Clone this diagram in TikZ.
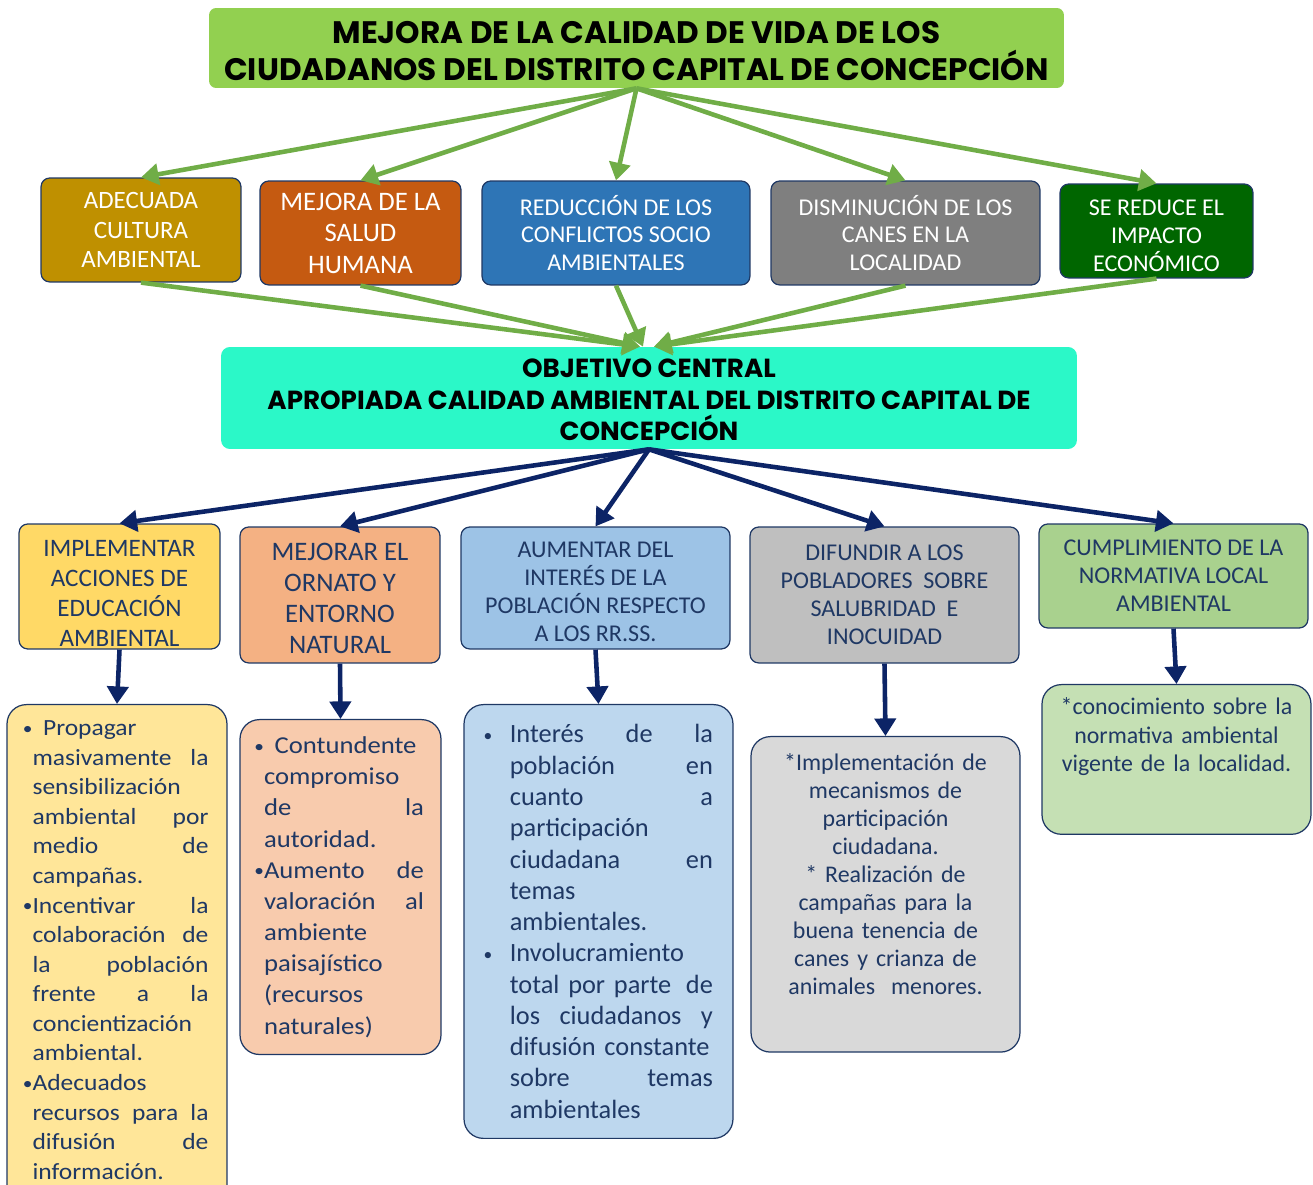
\documentclass[tikz,border=0pt]{standalone}
\usepackage{fontspec}
\setmainfont{Carlito}
\newfontfamily\widefont[FakeStretch=1.1]{Carlito}
\newfontfamily\titlefont{Poppins}
\usetikzlibrary{arrows.meta}

\definecolor{verdeTitulo}{HTML}{92D050}
\definecolor{aguamarina}{HTML}{2BF8C8}
\definecolor{verdeFlecha}{HTML}{70AD47}
\definecolor{azulFlecha}{HTML}{0C2466}
\definecolor{azulTexto}{HTML}{1F3864}
\definecolor{ocre}{HTML}{BF9000}
\definecolor{naranja}{HTML}{C55A11}
\definecolor{azulMedio}{HTML}{2E75B6}
\definecolor{grisOscuro}{HTML}{7F7F7F}
\definecolor{verdeOscuro}{HTML}{006600}
\definecolor{amarillo}{HTML}{FFD966}
\definecolor{salmon}{HTML}{F4B183}
\definecolor{celeste}{HTML}{9DC3E6}
\definecolor{gris}{HTML}{BFBFBF}
\definecolor{verdeClaro}{HTML}{A9D18E}
\definecolor{amarilloClaro}{HTML}{FFE699}
\definecolor{salmonClaro}{HTML}{F8CBAD}
\definecolor{celesteClaro}{HTML}{BDD7EE}
\definecolor{grisClaro}{HTML}{D9D9D9}
\definecolor{verdePalido}{HTML}{C5E0B4}

\newcommand{\vineta}[1]{\leavevmode\llap{\raisebox{0.8pt}{\fontsize{10}{10}\selectfont\textbullet}\hspace{#1}}}

\begin{document}
\begin{tikzpicture}[x=0.02cm,y=-0.02cm,
  caja/.style={draw=azulTexto, line width=0.7pt, rounded corners=5pt, align=center, inner sep=0pt},
  efecto/.style={caja, text=white},
  medio/.style={caja, text=azulTexto},
  accion/.style={caja, rounded corners=11pt, text=azulTexto, anchor=north, inner xsep=0pt},
  flechaVerde/.style={-{Triangle[length=10pt,width=12pt]}, line width=2.6pt, draw=verdeFlecha},
  flechaAzul/.style={-{Triangle[length=10pt,width=12pt]}, line width=2.6pt, draw=azulFlecha}]

\useasboundingbox (0,0) rectangle (1313,1185);

% Fin (top box)
\node[fill=verdeTitulo, rounded corners=4pt, minimum width=17.1cm, minimum height=1.6cm, align=center,
  font={\titlefont\bfseries\fontsize{17.7}{21}\selectfont}] (fin) at (636.5,48)
  {\rule{0pt}{16pt}MEJORA DE LA CALIDAD DE VIDA DE LOS\\CIUDADANOS DEL DISTRITO CAPITAL DE CONCEPCIÓN};

% Efectos
\node[efecto, fill=ocre, minimum width=4cm, minimum height=2.08cm, font={\fontsize{14.2}{16.7}\selectfont}] (e1) at (141,230) {ADECUADA\\CULTURA\\AMBIENTAL};
\node[efecto, fill=naranja, minimum width=4.02cm, minimum height=2.08cm, font={\fontsize{15.2}{17.9}\selectfont}] (e2) at (360.5,233) {MEJORA DE LA\\SALUD\\HUMANA};
\node[efecto, fill=azulMedio, minimum width=5.36cm, minimum height=2.08cm, font={\fontsize{13.7}{15.9}\selectfont}] (e3) at (616,233) {REDUCCIÓN DE LOS\\CONFLICTOS SOCIO\\AMBIENTALES};
\node[efecto, fill=grisOscuro, minimum width=5.38cm, minimum height=2.08cm, font={\fontsize{13.7}{15.9}\selectfont}] (e4) at (905.5,233) {DISMINUCIÓN DE LOS\\CANES EN LA\\LOCALIDAD};
\node[efecto, fill=verdeOscuro, minimum width=3.86cm, minimum height=1.88cm, font={\fontsize{13.7}{15.9}\selectfont}] (e5) at (1156.5,231) {\rule{0pt}{14pt}SE REDUCE EL\\IMPACTO\\ECONÓMICO};

% Objetivo central
\node[fill=aguamarina, rounded corners=5pt, minimum width=17.12cm, minimum height=2.04cm, align=center,
  font={\titlefont\bfseries\fontsize{14.9}{17.9}\selectfont}] (centro) at (649,398)
  {\rule{0pt}{13pt}OBJETIVO CENTRAL\\APROPIADA CALIDAD AMBIENTAL DEL DISTRITO CAPITAL DE\\CONCEPCIÓN};

% Arrows fin -> efectos
\foreach \n in {e1,e2,e3,e4,e5}
  \draw[flechaVerde] (fin.south) -- (\n.north);

% Arrows efectos -> centro
\draw[flechaVerde] (e1.south) -- ([xshift=-0.18cm]centro.north);
\draw[flechaVerde] (e2.south) -- ([xshift=-0.18cm]centro.north);
\draw[flechaVerde] (e3.south) -- ([xshift=-0.12cm]centro.north);
\draw[flechaVerde] (e4.south) -- ([xshift=0.1cm]centro.north);
\draw[flechaVerde] (e5.south) -- ([xshift=0.1cm]centro.north);

% Medios
\node[medio, fill=amarillo, minimum width=4.02cm, minimum height=2.5cm, font={\fontsize{14.3}{17}\selectfont}] (m1) at (119.5,586.5) {\rule{0pt}{17pt}IMPLEMENTAR\\ACCIONES DE\\EDUCACIÓN\\AMBIENTAL};
\node[medio, fill=salmon, minimum width=4cm, minimum height=2.72cm, font={\fontsize{15.2}{17.6}\selectfont}] (m2) at (340,595) {\rule{0pt}{14pt}MEJORAR EL\\ORNATO Y\\ENTORNO\\NATURAL};
\node[medio, fill=celeste, minimum width=5.38cm, minimum height=2.44cm, font={\fontsize{13.7}{15.9}\selectfont}] (m3) at (595.5,588) {\rule{0pt}{13pt}AUMENTAR DEL\\INTERÉS DE LA\\POBLACIÓN RESPECTO\\A LOS RR.SS.};
\node[medio, fill=gris, minimum width=5.38cm, minimum height=2.72cm, font={\fontsize{13.7}{15.9}\selectfont}] (m4) at (884.5,595) {DIFUNDIR A LOS\\POBLADORES\ \ SOBRE\\SALUBRIDAD\ \ E\\INOCUIDAD};
\node[medio, fill=verdeClaro, minimum width=5.38cm, minimum height=2.08cm, font={\fontsize{13.7}{15.9}\selectfont}] (m5) at (1173.5,576) {CUMPLIMIENTO DE LA\\NORMATIVA LOCAL\\AMBIENTAL};

% Arrows centro -> medios
\foreach \n in {m1,m2,m3,m4,m5}
  \draw[flechaAzul] (centro.south) -- (\n.north);

% Acciones
\node[accion, fill=amarilloClaro, minimum width=4.4cm, text width=3.66cm, align=left, inner ysep=0.32cm,
  font={\widefont\fontsize{13.2}{16.84}\selectfont}] (a1) at (117,704)
  {\leftskip=4pt
   \vineta{0pt}\hspace{6pt}Propagar\\
   masivamente\hfill la\\
   sensibilización\\
   ambiental\hfill por\\
   medio\hfill de\\
   campañas.\\
   \vineta{0pt}Incentivar\hfill la\\
   colaboración\hfill de\\
   la\hfill población\\
   frente\hfill a\hfill la\\
   concientización\\
   ambiental.\\
   \vineta{0pt}Adecuados\\
   recursos\hfill para\hfill la\\
   difusión\hfill de\\
   información.\par
   \rule{0pt}{20pt}};
\node[accion, fill=salmonClaro, minimum width=4.02cm, text width=3.34cm, align=left, inner ysep=0.34cm,
  font={\widefont\fontsize{13.8}{17.75}\selectfont}] (a2) at (340.5,719)
  {\leftskip=4pt
   \vineta{0pt}\hspace{6pt}Contundente\\
   compromiso\\
   de\hfill la\\
   autoridad.\\
   \vineta{0pt}Aumento\hfill de\\
   valoración\hfill al\\
   ambiente\\
   paisajístico\\
   (recursos\\
   naturales)\par};
\node[accion, fill=celesteClaro, minimum width=5.38cm, text width=4.58cm, align=left, inner ysep=0.4cm,
  font={\fontsize{15}{17.8}\selectfont}] (a3) at (598.5,704)
  {\leftskip=14.7pt
   \vineta{10pt}Interés\hfill de\hfill la\\
   población\hfill en\\
   cuanto\hfill a\\
   participación\\
   ciudadana\hfill en\\
   temas\\
   ambientales.\\
   \vineta{10pt}Involucramiento\\
   total por parte\hfill de\\
   los\hfill ciudadanos\hfill y\\
   difusión constante\\
   sobre\hfill temas\\
   ambientales\par};
\node[accion, fill=grisClaro, minimum width=5.38cm, text width=4.6cm, align=center, inner ysep=0.34cm,
  font={\fontsize{13.6}{15.93}\selectfont}] (a4) at (885.5,736)
  {*Implementación de\\mecanismos de\\participación\\ciudadana.\\{*} Realización de\\campañas para la\\buena tenencia de\\canes y crianza de\\animales\ \ menores.\par
   \rule{0pt}{22pt}};
\node[accion, fill=verdePalido, minimum width=5.38cm, text width=4.9cm, align=center, inner ysep=0.26cm,
  font={\fontsize{13.6}{16.2}\selectfont}] (a5) at (1176.5,684)
  {*conocimiento sobre la\\normativa ambiental\\vigente de la localidad.\par
   \rule{0pt}{25pt}};

% Arrows medios -> acciones
\foreach \n in {1,...,5}
  \draw[flechaAzul] (m\n.south) -- (a\n.north);

\end{tikzpicture}
\end{document}
